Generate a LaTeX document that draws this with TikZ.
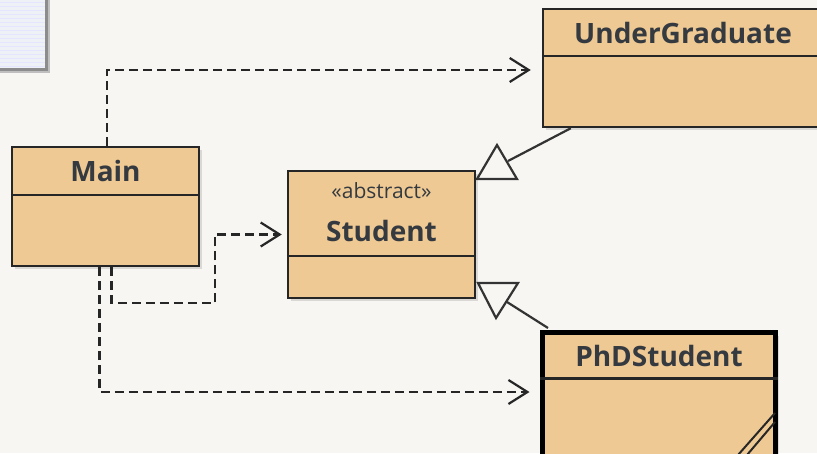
\documentclass[tikz,border=0pt]{standalone}
\usepackage{fontspec}
\setmainfont{Open Sans}
\usetikzlibrary{arrows.meta, positioning, shadows}
\definecolor{bg}{HTML}{F7F6F2}
\definecolor{tan}{HTML}{EFC993}
\definecolor{ink}{HTML}{343A40}
\definecolor{pane}{HTML}{EEF1F5}

\begin{document}
\begin{tikzpicture}[x=1pt,y=-1pt,
  cls/.style={draw=black!85,line width=2.5pt,fill=tan,drop shadow={shadow xshift=3pt,shadow yshift=-3pt,opacity=0.25}},
  ttl/.style={font=\fontsize{28}{30}\selectfont\bfseries,text=ink},
  stereo/.style={font=\fontsize{21}{24}\selectfont,text=ink},
  div/.style={line width=2.2pt,black!85},
  dep/.style={dash pattern=on 9pt off 5pt,line width=2.2pt,black!85,-{Straight Barb[length=19pt,width=24pt,line width=2.2pt]}},
  gen/.style={line width=2.2pt,black!80}]
  \useasboundingbox (0,0) rectangle (817,453);
  \clip (0,0) rectangle (817,453);
  \fill[bg] (0,0) rectangle (817,453);

  % window behind
  \fill[black!25] (-10,-10) rectangle (50,73);
  \draw[black!45,line width=3pt,fill=pane] (-10,-10) rectangle (46,69);
  \foreach \y in {2,6,...,66} \draw[blue!10,line width=0.8pt] (-10,\y) -- (44.5,\y);

  % classes
  \node[cls,minimum width=187pt,minimum height=119pt] (main) at (105.5,206.5) {};
  \draw[div] ([yshift=-49pt]main.north west) -- ([yshift=-49pt]main.north east);
  \node[ttl] at ([yshift=-25pt]main.north) {Main};

  \node[cls,minimum width=187pt,minimum height=127pt] (student) at (381.5,234.5) {};
  \draw[div] ([yshift=-86pt]student.north west) -- ([yshift=-86pt]student.north east);
  \node[stereo] at ([yshift=-21pt]student.north) {«abstract»};
  \node[ttl] at ([yshift=-61pt]student.north) {Student};

  \node[cls,minimum width=280pt,minimum height=118pt] (ug) at (683,68) {};
  \draw[div] ([yshift=-48pt]ug.north west) -- ([yshift=-48pt]ug.north east);
  \node[ttl] at ([yshift=-25pt]ug.north) {UnderGraduate};

  \node[cls,draw=black,line width=5pt,minimum width=233pt,minimum height=137pt] (phd) at (659,401) {};
  \draw[div] ([yshift=-48.5pt]phd.north west) -- ([yshift=-48.5pt]phd.north east);
  \node[ttl] at ([yshift=-25.5pt]phd.north) {PhDStudent};
  \draw[black!85,line width=2pt] (775,413) -- (738,455) (775,422) -- (747,455);

  % dependencies
  \draw[dep] ([xshift=1.5pt]main.north) |- ([xshift=-11pt,yshift=-2pt]ug.west);
  \draw[dep] ([xshift=6pt]main.south) |- (215,303) |- ([xshift=-5pt]student.west);
  \draw[dep] ([xshift=-6pt]main.south) |- ([xshift=-10.5pt,yshift=9pt]phd.west);

  % generalisations
  \draw[gen,fill=bg] (477,179) -- (497,145) -- (517,179) -- cycle;
  \draw[gen] ([xshift=29pt]ug.south west) -- (508,161);
  \draw[gen,fill=bg] (478,283) -- (496,318) -- (518,283) -- cycle;
  \draw[gen] (507,302) -- ([xshift=8pt,yshift=2pt]phd.north west);
\end{tikzpicture}
\end{document}
